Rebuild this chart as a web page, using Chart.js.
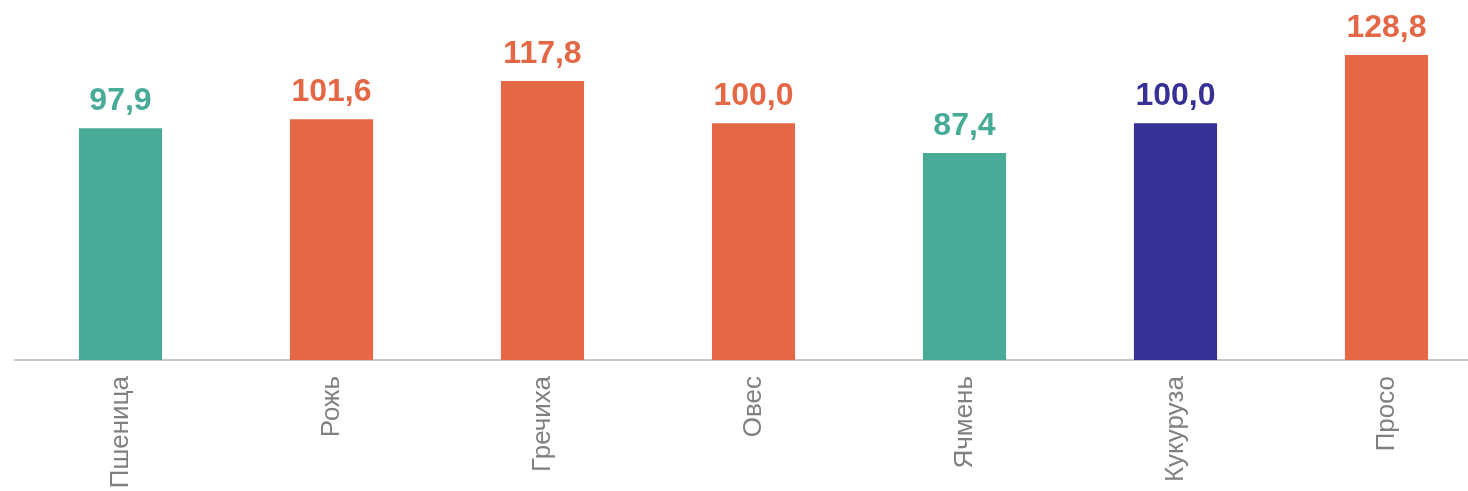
<!DOCTYPE html>
<html>
<head>
<meta charset="utf-8">
<script src="https://cdn.jsdelivr.net/npm/chart.js@4/dist/chart.umd.min.js"></script>
<style>
    html, body { margin: 0; padding: 0; background: #fff; overflow: hidden; }
    #wrap { position: absolute; left: 0; top: 0; width: 1492px; height: 491px; }
</style>
</head>
<body>
<div id="wrap"><canvas id="myChart"></canvas></div>
<script>
const categories = ['Пшеница', 'Рожь', 'Гречиха', 'Овес', 'Ячмень', 'Кукуруза', 'Просо'];
const values = [97.9, 101.6, 117.8, 100.0, 87.4, 100.0, 128.8];
const barColors = ['#47ab98', '#e46846', '#e46846', '#e46846', '#47ab98', '#373195', '#e46846'];

const valueLabels = {
    id: 'valueLabels',
    afterDatasetsDraw(chart) {
        const ctx = chart.ctx;
        const meta = chart.getDatasetMeta(0);
        ctx.save();
        ctx.font = 'bold 32px "Liberation Sans", Arial, sans-serif';
        ctx.textAlign = 'center';
        ctx.textBaseline = 'alphabetic';
        meta.data.forEach((bar, i) => {
            ctx.fillStyle = barColors[i];
            ctx.fillText(values[i].toFixed(1).replace('.', ','), bar.x, bar.y - 18);
        });
        ctx.restore();
    }
};

const ctx = document.getElementById('myChart').getContext('2d');
const myChart = new Chart(ctx, {
    type: 'bar',
    data: {
        labels: categories,
        datasets: [{
            data: values,
            backgroundColor: barColors,
            borderWidth: 0,
            barPercentage: 0.394,
            categoryPercentage: 1
        }]
    },
    options: {
        responsive: true,
        maintainAspectRatio: false,
        animation: false,
        layout: { padding: { left: 15, right: 0, top: 0, bottom: 0 } },
        plugins: {
            legend: { display: false },
            tooltip: { enabled: false }
        },
        scales: {
            x: {
                grid: { display: false, drawTicks: false },
                border: { display: true, color: '#c8c8c8', width: 2 },
                ticks: {
                    color: '#808080',
                    font: { family: '"Liberation Sans", Arial, sans-serif', size: 26 },
                    maxRotation: 90,
                    minRotation: 90,
                    padding: 16
                },
                afterFit(scale) { scale.height = 131; }
            },
            y: {
                display: false,
                min: 0,
                max: 152
            }
        }
    },
    plugins: [valueLabels]
});
</script>
</body>
</html>
